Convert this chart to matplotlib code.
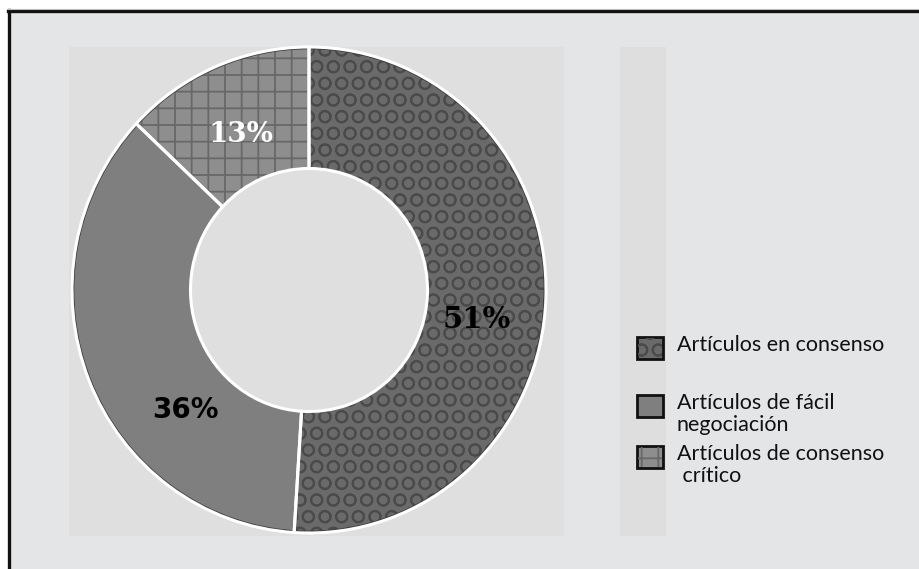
import matplotlib
matplotlib.use("Agg")
import matplotlib.pyplot as plt
from matplotlib.patches import Rectangle
from matplotlib.lines import Line2D

# Data
categories = ["Artículos en consenso", "Artículos de fácil\nnegociación", "Artículos de consenso\n crítico"]
shares = [51, 36, 13]

face_colors = ["#6a6a6a", "#7f7f7f", "#8e8e8e"]
hatch_colors = ["#4a4a4a", "#5a5a5a", "#686868"]
hatches = ["O", "", "+"]

plt.rcParams["hatch.linewidth"] = 1.3

W, H = 920, 569
fig = plt.figure(figsize=(W / 100, H / 100), dpi=100)
fig.patch.set_facecolor("white")


def fx(px):
    return px / W


def fy(py):
    return 1 - py / H


# Framed background panel
fig.add_artist(Rectangle((fx(9), 0), 1 - fx(9), fy(11), transform=fig.transFigure,
                         facecolor="#e4e5e7", edgecolor="none", zorder=0))
fig.add_artist(Line2D([fx(9), fx(9)], [0, fy(10)], transform=fig.transFigure,
                      color="#111111", lw=2.4, zorder=1))
fig.add_artist(Line2D([fx(8), 1], [fy(11), fy(11)], transform=fig.transFigure,
                      color="#111111", lw=2.4, zorder=1))
fig.add_artist(Line2D([fx(8), 1], [fy(9), fy(9)], transform=fig.transFigure,
                      color="#bdbdbd", lw=0.8, zorder=1))

# Plot area and legend area
fig.add_artist(Rectangle((fx(69), fy(536)), fx(564) - fx(69), fy(47) - fy(536),
                         transform=fig.transFigure, facecolor="#dfdfdf",
                         edgecolor="none", zorder=1))
fig.add_artist(Rectangle((fx(620), fy(536)), fx(666) - fx(620), fy(47) - fy(536),
                         transform=fig.transFigure, facecolor="#dedede",
                         edgecolor="none", zorder=1))

# Donut
left, right, top, bottom = 72, 546, 47, 533
ax = fig.add_axes([fx(left), fy(bottom), fx(right) - fx(left), fy(top) - fy(bottom)])
ax.set_zorder(2)
ax.set_facecolor("none")
ax.axis("off")

wedges, _ = ax.pie(shares, startangle=90, counterclock=False, radius=1.0,
                   colors=face_colors,
                   wedgeprops=dict(width=0.5, linewidth=0))
for w, hc, h in zip(wedges, hatch_colors, hatches):
    w.set_hatch(h)
    w.set_edgecolor(hc)
    w.set_linewidth(0)

# outer rim shading
rim = plt.Circle((0, 0), 0.995, facecolor="none", edgecolor="#3a3a3a", lw=1.6)
ax.add_patch(rim)
# white separators
ax.pie(shares, startangle=90, counterclock=False, radius=1.0,
       colors=["none"] * len(shares),
       wedgeprops=dict(width=0.5, linewidth=2.2, edgecolor="white", fill=False))
ax.set_xlim(-1.0, 1.0)
ax.set_ylim(-1.0, 1.0)
ax.set_aspect("auto")

# Percentage labels
label_pos = [(477, 320), (185, 410), (241, 135)]
label_style = [
    dict(color="black", family="DejaVu Serif", weight="bold", size=21),
    dict(color="black", family="DejaVu Sans", weight="bold", size=20),
    dict(color="white", family="DejaVu Serif", weight="bold", size=20),
]
for v, (px, py), st in zip(shares, label_pos, label_style):
    fig.text(fx(px), fy(py), f"{v}%", ha="center", va="center", zorder=5, **st)

# Legend
entry_y = [348, 406, 457]
for i, (name, yy) in enumerate(zip(categories, entry_y)):
    sq = Rectangle((fx(637), fy(yy + 11)), fx(663) - fx(637), fy(yy - 11) - fy(yy + 11),
                   transform=fig.transFigure, facecolor=face_colors[i],
                   edgecolor="#111111", lw=2.0, zorder=3)
    fig.add_artist(sq)
    if hatches[i]:
        sqh = Rectangle((fx(638), fy(yy + 10)), fx(662) - fx(638), fy(yy - 10) - fy(yy + 10),
                        transform=fig.transFigure, facecolor="none",
                        edgecolor=hatch_colors[i], hatch=hatches[i], lw=0, zorder=4)
        fig.add_artist(sqh)
    fig.text(fx(677), fy(yy - 13), name, ha="left", va="top", family="Lato",
             size=15.5, color="#111111", linespacing=1.1, zorder=5)

fig.savefig("out.png", dpi=100, facecolor=fig.get_facecolor())
